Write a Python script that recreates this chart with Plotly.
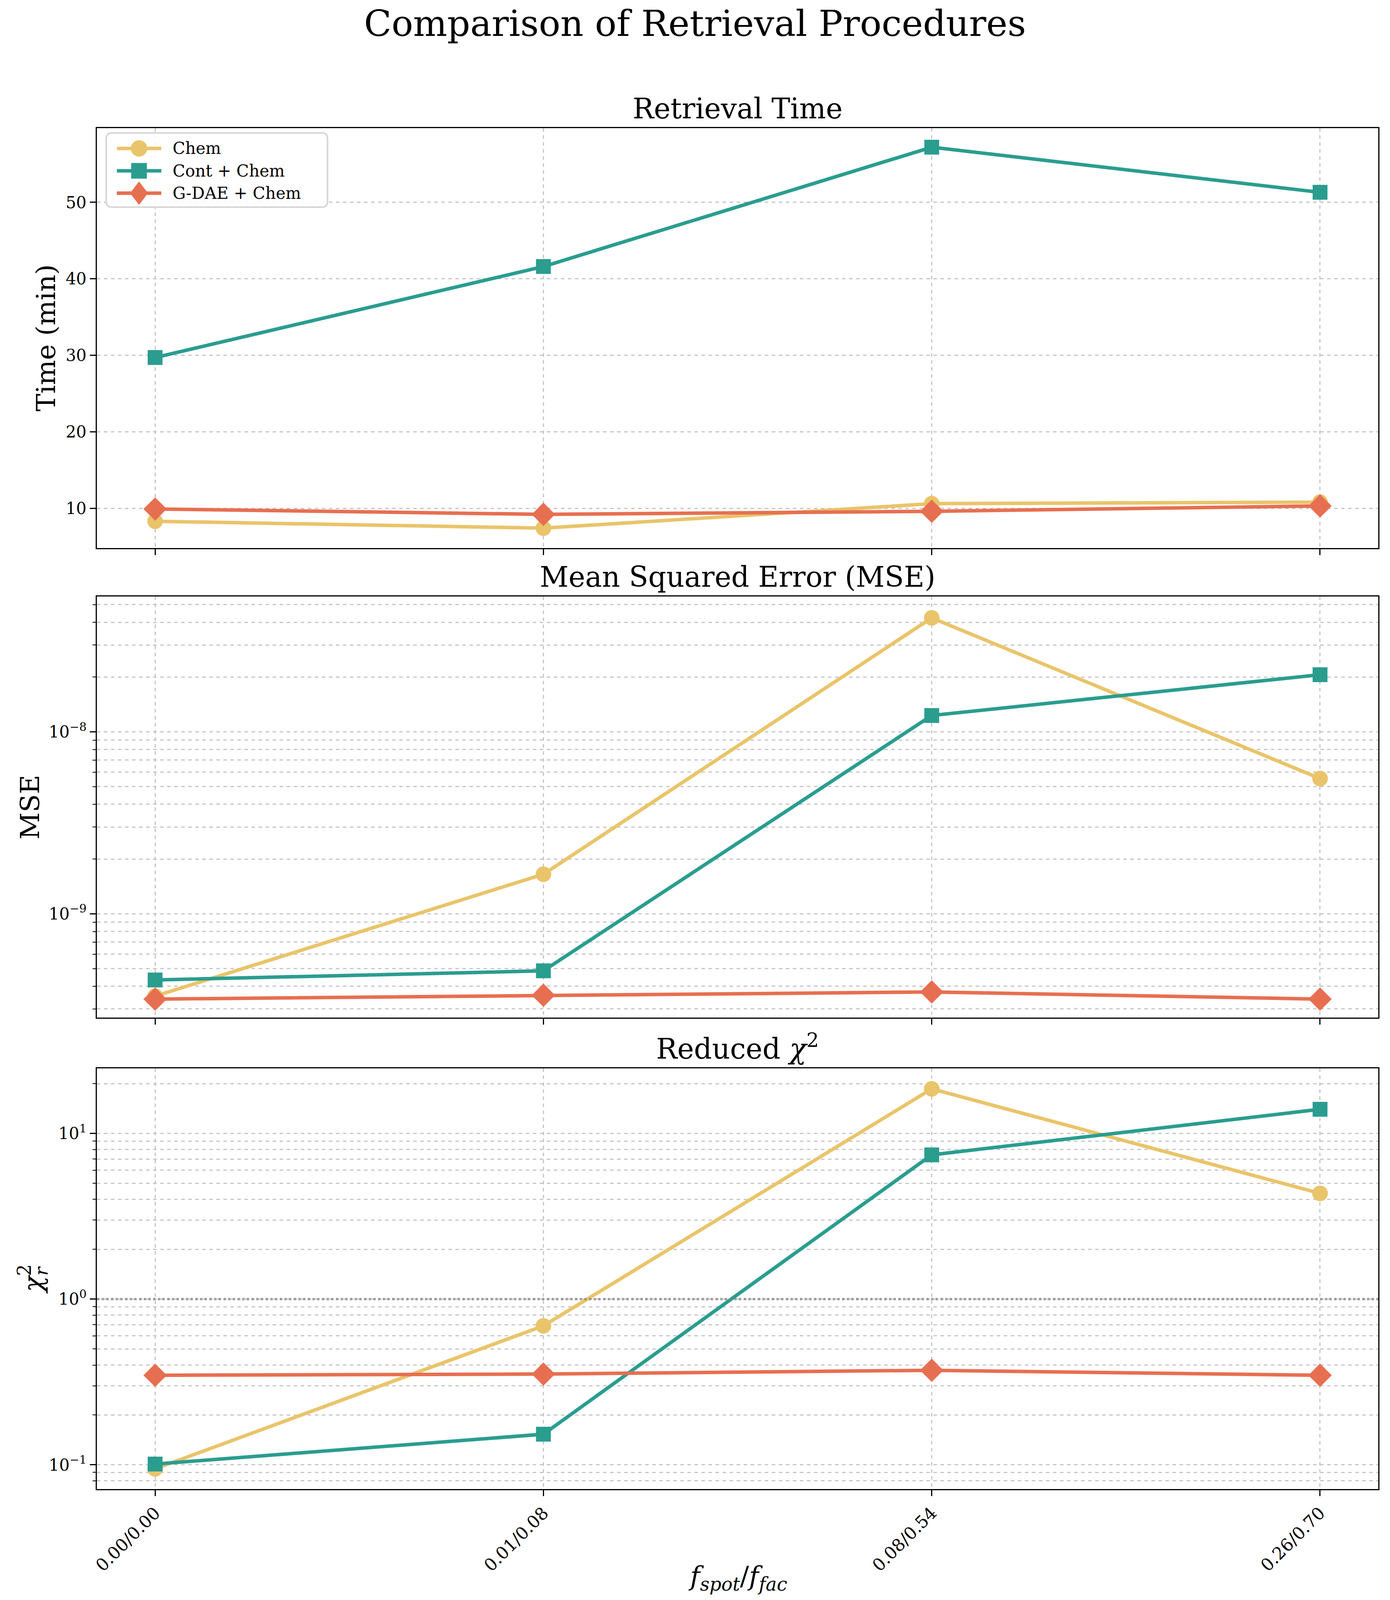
import plotly.graph_objects as go
from plotly.subplots import make_subplots

categories = ["0.00/0.00", "0.01/0.08", "0.08/0.54", "0.26/0.70"]
series_names = ["Chem", "Cont + Chem", "G-DAE + Chem"]

time_chem = [8.3, 7.4, 10.6, 10.8]
time_cont = [29.7, 41.6, 57.2, 51.3]
time_gdae = [9.9, 9.2, 9.6, 10.3]

mse_chem = [3.53e-10, 1.65e-9, 4.23e-8, 5.54e-9]
mse_cont = [4.33e-10, 4.86e-10, 1.23e-8, 2.06e-8]
mse_gdae = [3.40e-10, 3.57e-10, 3.72e-10, 3.40e-10]

chi_chem = [0.0945, 0.69, 18.6, 4.35]
chi_cont = [0.101, 0.153, 7.43, 14.0]
chi_gdae = [0.347, 0.353, 0.372, 0.347]

chi_reference = 1.0

colors = ["#E9C46A", "#2A9D8F", "#E76F51"]
symbols = ["circle", "square", "diamond"]
msizes = [40, 38, 46]

FONT = "DejaVu Serif"
GRID = "#c6c6c6"

fig = make_subplots(rows=3, cols=1, shared_xaxes=True)

panels = [
    [time_chem, time_cont, time_gdae],
    [mse_chem, mse_cont, mse_gdae],
    [chi_chem, chi_cont, chi_gdae],
]
for r, data in enumerate(panels, start=1):
    for i, vals in enumerate(data):
        fig.add_trace(go.Scatter(
            x=categories, y=vals, mode="lines+markers", name=series_names[i],
            line=dict(color=colors[i], width=9),
            marker=dict(symbol=symbols[i], size=msizes[i], color=colors[i]),
            showlegend=False), row=r, col=1)

# reference line at chi2 = 1, spanning the full bottom panel (overlay x axis 0..1)
fig.add_trace(go.Scatter(x=[0, 1], y=[chi_reference, chi_reference], mode="lines",
                         line=dict(color="rgba(128,128,128,0.75)", width=6, dash="dot"),
                         showlegend=False, hoverinfo="skip", xaxis="x4", yaxis="y3"))

# panel domains as fractions of the full page height
domains = [[0.6582, 0.9216], [0.3635, 0.6276], [0.0676, 0.3316]]
tick_font = dict(family=FONT, size=42, color="black")
title_font = dict(family=FONT, size=68, color="black")

common_axis = dict(showline=True, linecolor="black", linewidth=3, mirror=True,
                   ticks="outside", ticklen=15, tickwidth=3, tickcolor="black",
                   showgrid=True, gridcolor=GRID, gridwidth=3, griddash="dash",
                   zeroline=False, tickfont=tick_font, automargin=False)

for r in range(1, 4):
    fig.update_xaxes(range=[-0.15, 3.15], row=r, col=1, **common_axis)
    fig.update_yaxes(domain=domains[r - 1], row=r, col=1, **common_axis)

fig.update_layout(xaxis4=dict(overlaying="x3", anchor="y3", range=[0, 1],
                              visible=False, showgrid=False, zeroline=False))

fig.update_xaxes(tickangle=-45, tickfont=dict(family=FONT, size=44, color="black"),
                 row=3, col=1)

fig.update_yaxes(range=[4.82, 59.7], tickvals=[10, 20, 30, 40, 50], row=1, col=1)

minor_style = dict(ticks="outside", ticklen=8, tickwidth=2, tickcolor="black",
                   showgrid=True, gridcolor=GRID, gridwidth=3, griddash="dash")

mse_minor = [m * 10.0 ** e for e in (-10, -9, -8) for m in range(2, 10)
             if 2.69e-10 <= m * 10.0 ** e <= 5.53e-8]
fig.update_yaxes(type="log", range=[-9.57, -7.257], tickvals=[1e-9, 1e-8],
                 ticktext=["10<sup>−9</sup>", "10<sup>−8</sup>"],
                 minor=dict(tickmode="array", tickvals=mse_minor, **minor_style),
                 row=2, col=1)

chi_minor = [m * 10.0 ** e for e in (-2, -1, 0, 1) for m in range(2, 10)
             if 0.0713 <= m * 10.0 ** e <= 24.7]
fig.update_yaxes(type="log", range=[-1.147, 1.393], tickvals=[0.1, 1, 10],
                 ticktext=["10<sup>−1</sup>", "10<sup>0</sup>", "10<sup>1</sup>"],
                 minor=dict(tickmode="array", tickvals=chi_minor, **minor_style),
                 row=3, col=1)

# subplot titles
subtitles = ["Retrieval Time", "Mean Squared Error (MSE)", "Reduced <i>χ</i><sup>2</sup>"]
for t, d in zip(subtitles, domains):
    fig.add_annotation(text=t, x=0.5, y=d[1], xref="paper", yref="paper",
                       xanchor="center", yanchor="bottom", yshift=6, showarrow=False,
                       font=dict(family=FONT, size=72, color="black"))

# y axis titles (x offset in px from plot left edge)
ytitles = ["Time (min)", "MSE", "<i>χ</i><sup>2</sup>"]
yt_shift = [-131, -172, -168]
for t, d, xs in zip(ytitles, domains, yt_shift):
    fig.add_annotation(text=t, x=0, y=(d[0] + d[1]) / 2, xref="paper", yref="paper",
                       xanchor="center", yanchor="middle", xshift=xs, textangle=-90,
                       showarrow=False, font=title_font)
# subscript r of chi^2_r, stacked under the superscript 2
fig.add_annotation(text="<i>r</i>", x=0, y=(domains[2][0] + domains[2][1]) / 2,
                   xref="paper", yref="paper", xanchor="center", yanchor="middle",
                   xshift=-142, yshift=20, textangle=-90, showarrow=False,
                   font=dict(family=FONT, size=46, color="black"))

# x axis title
fig.add_annotation(text="<i>f</i><sub><i>spot</i></sub>/<i>f</i><sub><i>fac</i></sub>",
                   x=0.5, y=0.012, xref="paper", yref="paper", xanchor="center",
                   yanchor="middle", showarrow=False, font=title_font)

# ---- legend drawn inside panel 1 (domain coordinates) ----
bx0, bx1, by0, by1 = 0.0073, 0.18, 0.8117, 0.9885
rx, ry = 0.0046, 0.014
box_path = (f"M {bx0+rx},{by0} L {bx1-rx},{by0} Q {bx1},{by0} {bx1},{by0+ry} "
            f"L {bx1},{by1-ry} Q {bx1},{by1} {bx1-rx},{by1} L {bx0+rx},{by1} "
            f"Q {bx0},{by1} {bx0},{by1-ry} L {bx0},{by0+ry} Q {bx0},{by0} {bx0+rx},{by0} Z")
fig.add_shape(type="path", path=box_path, xref="x domain", yref="y domain",
              line=dict(color="#d6d6d6", width=4), fillcolor="rgba(255,255,255,0.85)")
entry_y = [0.9516, 0.8983, 0.8450]
lx0, lx1, mx, tx = 0.0156, 0.0503, 0.0329, 0.0586
for i, ey in enumerate(entry_y):
    fig.add_shape(type="line", xref="x domain", yref="y domain", x0=lx0, x1=lx1,
                  y0=ey, y1=ey, line=dict(color=colors[i], width=9))
    common = dict(xref="x domain", yref="y domain", xsizemode="pixel",
                  ysizemode="pixel", xanchor=mx, yanchor=ey, fillcolor=colors[i],
                  line=dict(width=0))
    if symbols[i] == "circle":
        fig.add_shape(type="circle", x0=-21, x1=21, y0=-21, y1=21, **common)
    elif symbols[i] == "square":
        fig.add_shape(type="rect", x0=-20, x1=20, y0=-20, y1=20, **common)
    else:
        fig.add_shape(type="path", path="M -23,0 L 0,30 L 23,0 L 0,-30 Z", **common)
    fig.add_annotation(text=series_names[i], x=tx, y=ey, xref="x domain", yref="y domain",
                       xanchor="left", yanchor="middle", showarrow=False,
                       font=dict(family=FONT, size=42, color="black"))

fig.update_layout(
    autosize=True,
    margin=dict(l=240, r=22, t=0, b=0, autoexpand=False),
    plot_bgcolor="white", paper_bgcolor="white",
    font=dict(family=FONT, color="black"),
    showlegend=False,
    title=dict(text="Comparison of Retrieval Procedures", x=0.5, xref="container",
               xanchor="center", y=0.9872, yanchor="middle",
               font=dict(family=FONT, size=92, color="black")),
)

fig.write_html("out.html")
